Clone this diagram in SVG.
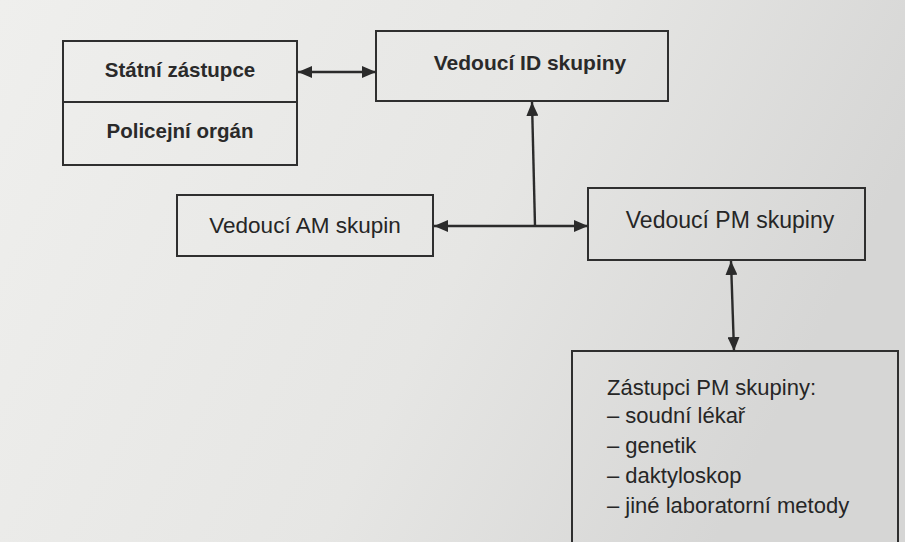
<svg xmlns="http://www.w3.org/2000/svg" width="905" height="542" viewBox="0 0 905 542">
<defs>
<linearGradient id="bg" x1="0" y1="0" x2="1" y2="0.3">
<stop offset="0" stop-color="#efefed"/>
<stop offset="0.6" stop-color="#e6e6e4"/>
<stop offset="1" stop-color="#d6d6d5"/>
</linearGradient>
<marker id="ah" viewBox="0 0 14 12" refX="14" refY="6" markerWidth="14" markerHeight="12" markerUnits="userSpaceOnUse" orient="auto-start-reverse">
<path d="M0,0 L14,6 L0,12 Z" fill="#2b2b2b"/>
</marker>
<style>
.box{fill:none;stroke:#2f2f2f;stroke-width:2}
.b{font-family:"Liberation Sans",Arial,sans-serif;font-weight:bold;fill:#2a2a2a;text-anchor:middle}
.r{font-family:"Liberation Sans",Arial,sans-serif;fill:#262626}
.c{stroke:#2b2b2b;stroke-width:2.4;fill:none}
</style>
</defs>
<rect width="905" height="542" fill="url(#bg)"/>
<g id="statni-zastupce">
<rect class="box" x="63" y="41" width="234" height="124"/>
<line class="box" x1="63" y1="102" x2="297" y2="102"/>
<text class="b" x="180" y="77" font-size="20.5">Státní zástupce</text>
<text class="b" x="180" y="138" font-size="20.5">Policejní orgán</text>
</g>
<g id="vedouci-id">
<rect class="box" x="376" y="31" width="292" height="70"/>
<text class="b" x="530" y="70" font-size="21">Vedoucí ID skupiny</text>
</g>
<g id="vedouci-am">
<rect class="box" x="177" y="195" width="256" height="61"/>
<text class="r" x="305" y="233" font-size="22.5" text-anchor="middle">Vedoucí AM skupin</text>
</g>
<g id="vedouci-pm">
<rect class="box" x="588" y="188" width="277" height="72"/>
<text class="r" x="730" y="228" font-size="23" text-anchor="middle">Vedoucí PM skupiny</text>
</g>
<g id="zastupci-pm">
<rect class="box" x="572" y="351" width="326" height="200"/>
<text class="r" font-size="22">
<tspan x="607" y="395">Zástupci PM skupiny:</tspan>
<tspan x="607" y="423">– soudní lékař</tspan>
<tspan x="607" y="453">– genetik</tspan>
<tspan x="607" y="483">– daktyloskop</tspan>
<tspan x="607" y="513">– jiné laboratorní metody</tspan>
</text>
</g>
<g id="connectors">
<line class="c" x1="298" y1="72" x2="376" y2="72" marker-start="url(#ah)" marker-end="url(#ah)"/>
<line class="c" x1="434" y1="226" x2="588" y2="226" marker-start="url(#ah)" marker-end="url(#ah)"/>
<line class="c" x1="535" y1="226" x2="532" y2="102" marker-end="url(#ah)"/>
<line class="c" x1="731" y1="261" x2="734" y2="351" marker-start="url(#ah)" marker-end="url(#ah)"/>
</g>
</svg>
